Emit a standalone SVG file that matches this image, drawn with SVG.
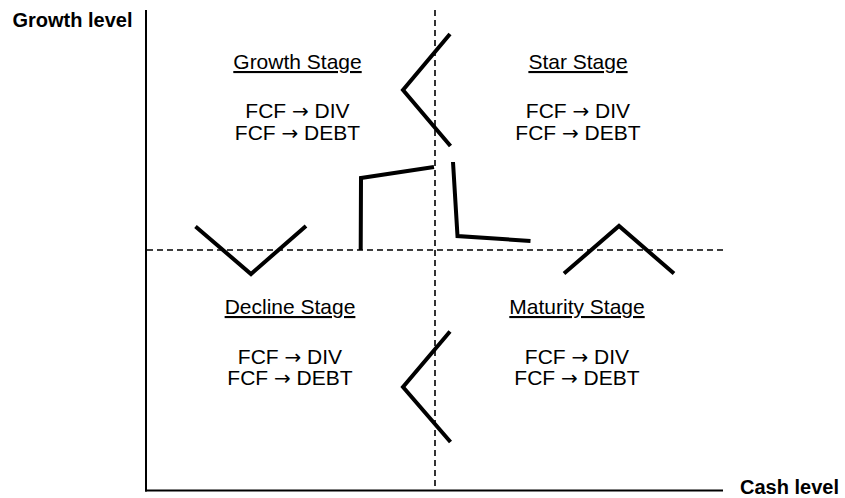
<svg xmlns="http://www.w3.org/2000/svg" width="845" height="498" viewBox="0 0 845 498">
<style>
.axis{stroke:#000;stroke-width:2;fill:none}
.dash{stroke:#000;stroke-width:1.6;stroke-dasharray:6 4;fill:none}
.shape{stroke:#000;stroke-width:4;fill:none;stroke-linejoin:miter;stroke-linecap:butt}
.lbl{font-family:"Liberation Sans",Arial,sans-serif;font-size:20px;font-weight:bold;fill:#000}
.t{font-family:"Liberation Sans",Arial,sans-serif;font-size:21px;fill:#000;text-anchor:middle}
.u{text-decoration:underline}
.ar{font-family:"DejaVu Sans",sans-serif;font-size:20px}
</style>
<rect width="845" height="498" fill="#fff"/>
<g id="axes">
<line class="axis" x1="146" y1="10" x2="146" y2="491.5"/>
<line class="axis" x1="145" y1="490.5" x2="723" y2="490.5"/>
<text class="lbl" x="12.5" y="26.5">Growth level</text>
<text class="lbl" x="740" y="494">Cash level</text>
</g>
<g id="dividers">
<line class="dash" x1="435" y1="10" x2="435" y2="490"/>
<line class="dash" x1="147" y1="250" x2="726" y2="250"/>
</g>
<g id="connectors">
<polyline class="shape" points="450,34 403,90 450.5,146"/>
<polyline class="shape" points="360.7,250 361,178 434,167"/>
<polyline class="shape" points="453,162 457.5,236 530.5,241"/>
<polyline class="shape" points="195.5,226.5 251,274 306,226"/>
<polyline class="shape" points="564,273.5 619,226 674,273.5"/>
<polyline class="shape" points="450,331.5 403,387 450.5,442"/>
</g>
<g id="growth-stage">
<text class="t u" x="297.5" y="69">Growth Stage</text>
<text class="t" x="297.5" y="118">FCF <tspan class="ar">→</tspan> DIV</text>
<text class="t" x="297.5" y="140">FCF <tspan class="ar">→</tspan> DEBT</text>
</g>
<g id="star-stage">
<text class="t u" x="578" y="69">Star Stage</text>
<text class="t" x="578" y="118">FCF <tspan class="ar">→</tspan> DIV</text>
<text class="t" x="578" y="140">FCF <tspan class="ar">→</tspan> DEBT</text>
</g>
<g id="decline-stage">
<text class="t u" x="290" y="314">Decline Stage</text>
<text class="t" x="290" y="364">FCF <tspan class="ar">→</tspan> DIV</text>
<text class="t" x="290" y="385">FCF <tspan class="ar">→</tspan> DEBT</text>
</g>
<g id="maturity-stage">
<text class="t u" x="577" y="314">Maturity Stage</text>
<text class="t" x="577" y="364">FCF <tspan class="ar">→</tspan> DIV</text>
<text class="t" x="577" y="385">FCF <tspan class="ar">→</tspan> DEBT</text>
</g>
</svg>
